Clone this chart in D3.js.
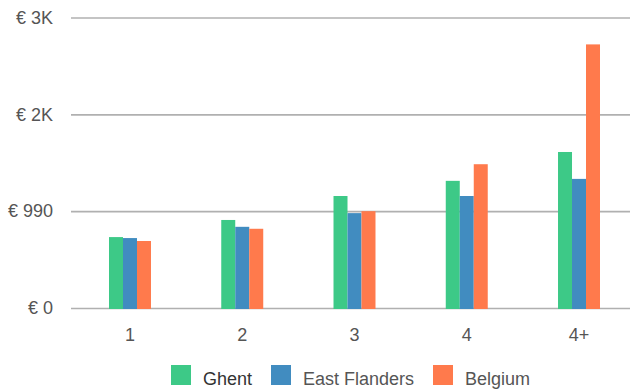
<!DOCTYPE html>
<html>
<head>
<meta charset="utf-8">
<script src="https://cdn.jsdelivr.net/npm/d3@7"></script>
<style>
  html, body { margin: 0; padding: 0; background: #fff; }
  svg { display: block; font-family: "Liberation Sans", Arial, sans-serif; }
</style>
</head>
<body>
<svg id="chart" width="630" height="389"></svg>
<script>
// Household size categories and average monthly amounts (EUR)
const categories = ["1", "2", "3", "4", "4+"];
const seriesNames = ["Ghent", "East Flanders", "Belgium"];
const ghent = [725, 900, 1145, 1300, 1595];
const eastFlanders = [715, 830, 970, 1145, 1320];
const belgium = [685, 810, 990, 1470, 2695];
const tickValues = [0, 990, 1980, 2970];
const tickLabels = ["€ 0", "€ 990", "€ 2K", "€ 3K"];
const colors = ["#3DC987", "#418CC0", "#FF7A4C"];

const series = [ghent, eastFlanders, belgium];
const rows = categories.map((c, i) => ({ cat: c, values: series.map(s => s[i]) }));

const svg = d3.select("#chart");
const W = 630, H = 389;
const plotLeft = 71, plotRight = 638, plotTop = 17.5, plotBottom = 308;

const x = d3.scaleBand()
  .domain(categories)
  .range([plotLeft, plotRight])
  .paddingInner(0.626)
  .paddingOuter(0.3385);

const xInner = d3.scaleBand()
  .domain(seriesNames)
  .range([0, x.bandwidth()]);

const y = d3.scaleLinear()
  .domain([0, 2970])
  .range([plotBottom, plotTop]);

// Gridlines and y labels
const yAxis = d3.axisLeft(y)
  .tickValues(tickValues)
  .tickFormat((d, i) => tickLabels[i])
  .tickSize(-(W - plotLeft))
  .tickPadding(18);

const gy = svg.append("g")
  .attr("transform", `translate(${plotLeft},0)`)
  .call(yAxis);
gy.select(".domain").remove();
gy.selectAll(".tick line").attr("stroke", "#b0b0b0").attr("stroke-width", 1.6);
gy.selectAll(".tick text")
  .attr("fill", "#555")
  .attr("font-size", 18)
  .attr("font-family", "Liberation Sans, Arial, sans-serif");

// Bars
const groups = svg.append("g").selectAll("g")
  .data(rows)
  .join("g")
  .attr("transform", d => `translate(${x(d.cat)},0)`);

groups.selectAll("rect")
  .data(d => d.values.map((v, i) => ({ name: seriesNames[i], v, i })))
  .join("rect")
  .attr("x", d => xInner(d.name))
  .attr("width", xInner.bandwidth())
  .attr("y", d => y(d.v))
  .attr("height", d => y(0) - y(d.v) + 1)
  .attr("fill", d => colors[d.i]);

// X labels
const xAxis = d3.axisBottom(x).tickSize(0).tickPadding(20);
const gx = svg.append("g")
  .attr("transform", `translate(0,${y(0)})`)
  .call(xAxis);
gx.select(".domain").remove();
gx.selectAll(".tick text")
  .attr("fill", "#555")
  .attr("font-size", 18)
  .attr("font-family", "Liberation Sans, Arial, sans-serif");

// Legend
const legendX = [171, 271, 433];
const legend = svg.append("g").selectAll("g")
  .data(seriesNames)
  .join("g")
  .attr("transform", (d, i) => `translate(${legendX[i]},365)`);
legend.append("rect")
  .attr("width", 20).attr("height", 20)
  .attr("fill", (d, i) => colors[i]);
legend.append("text")
  .attr("x", 32).attr("y", 20)
  .attr("font-size", 18)
  .attr("fill", (d, i) => i === 0 ? "#333" : "#555")
  .text(d => d);
</script>
</body>
</html>
